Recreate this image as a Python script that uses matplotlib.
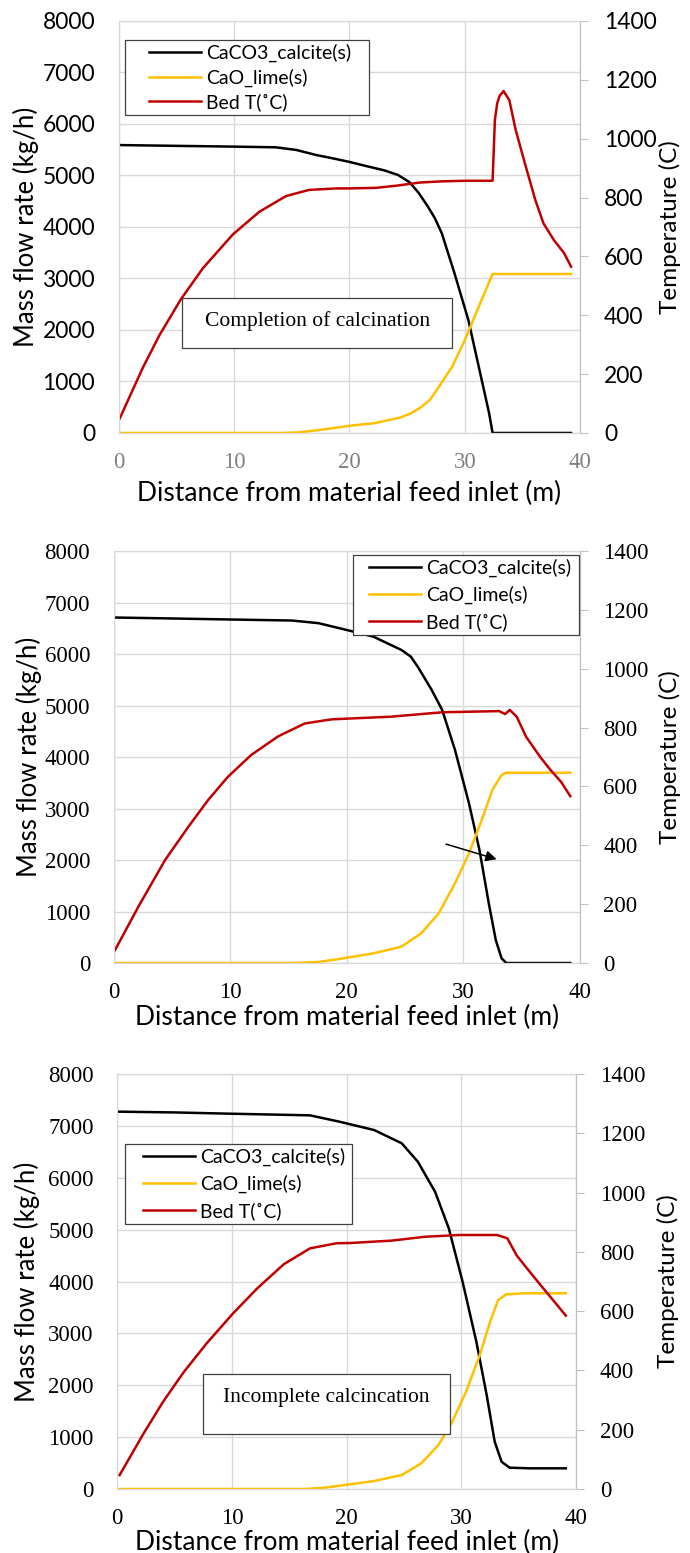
import numpy as np
import matplotlib
matplotlib.use('Agg')
from matplotlib import pyplot as plt
from matplotlib.patches import Rectangle
from matplotlib.legend_handler import HandlerLine2D

plt.rcParams['font.family'] = ['Lato', 'DejaVu Sans']

SANS = ['Lato', 'DejaVu Sans']
SERIF = ['Liberation Serif', 'DejaVu Serif']

labels = ['CaCO3_calcite(s)', 'CaO_lime(s)', 'Bed T(˚C)']
xlabel = 'Distance from material feed inlet (m)'
ylabel_left = 'Mass flow rate (kg/h)'
ylabel_right = 'Temperature (C)'

# ---- panel 1 : complete calcination
p1_caco3_x = [0.2, 5, 10, 13.6, 15.4, 17.1, 18.5, 19.9, 21.5, 23.0, 24.2, 25.2, 26.0, 26.8, 27.4,
              28, 29.1, 30.3, 31.2, 32.1, 32.4, 39.2]
p1_caco3_y = [5590, 5575, 5560, 5547, 5495, 5398, 5335, 5268, 5180, 5100, 5010, 4870, 4660, 4394, 4170,
              3877, 3100, 2194, 1288, 382, 0, 0]
p1_cao_x = [0.2, 14, 15.5, 17.3, 19.1, 20, 22.1, 24.4, 25.3, 26.2, 27.0, 27.7, 28.9, 30, 31.2, 32.4, 39.2]
p1_cao_y = [0, 0, 10, 55, 110, 140, 188, 300, 380, 500, 650, 880, 1288, 1806, 2452, 3087, 3087]
p1_t_x = [0.1, 2.07, 3.5, 5.4, 7.3, 9.9, 12.2, 14.5, 16.5, 18.9, 20, 22.3, 24, 26.1, 28, 30, 32.4,
          32.6, 32.8, 33.0, 33.35, 33.85, 34.4, 35.2, 36.1, 36.8, 37.7, 38.6, 39.2]
p1_t_y = [50, 220, 330, 455, 560, 675, 752, 805, 826, 831, 831, 833, 840, 851, 855, 857, 857,
          1064, 1120, 1145, 1162, 1131, 1030, 916, 792, 713, 656, 611, 565]
p1_note = 'Completion of calcination'

# ---- panel 2
p2_caco3_x = [0.2, 5, 10, 15.3, 17.6, 19.4, 20.3, 22.3, 24.7, 25.5, 26.1, 27.3, 28.2, 29.3, 30.5,
              31.4, 32.2, 32.8, 33.3, 33.7, 39.2]
p2_caco3_y = [6708, 6690, 6670, 6650, 6598, 6499, 6450, 6336, 6078, 5950, 5753, 5301, 4913, 4136, 3101,
              2194, 1159, 447, 91, 0, 0]
p2_cao_x = [0.2, 15.3, 17.6, 19.4, 22.3, 24.7, 26.4, 27.9, 29.3, 30.5, 31.7, 32.5, 33.3, 33.7, 39.2]
p2_cao_y = [0, 0, 20, 80, 188, 317, 577, 965, 1548, 2130, 2841, 3359, 3650, 3695, 3695]
p2_t_x = [0.1, 2.1, 4.4, 6.4, 8.1, 9.8, 11.8, 14.1, 16.4, 18.7, 19.8, 23.8, 28.2, 33.1, 33.6,
          34.0, 34.6, 35.4, 36.6, 37.5, 38.4, 39.2]
p2_t_y = [44, 191, 350, 463, 554, 633, 707, 770, 814, 828, 830, 837, 852, 856, 846,
          860, 837, 769, 701, 656, 616, 567]
p2_arrow_from = (28.3, 2324)
p2_arrow_to = (33.1, 2000)

# ---- panel 3 : incomplete calcination
p3_caco3_x = [0.1, 5, 10, 16.8, 19.4, 22.4, 24.8, 26.2, 27.7, 28.9, 30.1, 31.3, 32.2, 32.9,
              33.5, 34.2, 36.0, 39.1]
p3_caco3_y = [7275, 7260, 7235, 7204, 7080, 6920, 6664, 6310, 5731, 5025, 3996, 2840, 1812, 912,
              526, 411, 399, 399]
p3_cao_x = [0.2, 16.5, 18, 19.4, 22.4, 24.8, 26.5, 28.0, 29.2, 30.4, 31.6, 32.5, 33.2, 33.9, 35.4, 39.1]
p3_cao_y = [0, 0, 25, 64, 154, 270, 495, 848, 1297, 1875, 2583, 3225, 3643, 3753, 3773, 3773]
p3_t_x = [0.2, 2.3, 4.0, 5.8, 7.8, 10.1, 12.2, 14.5, 16.8, 19.1, 20.3, 23.9, 26.8, 29.8, 33.1,
          34.0, 34.8, 35.7, 36.9, 38.1, 39.1]
p3_t_y = [47, 188, 295, 395, 492, 593, 677, 758, 812, 829, 830, 838, 851, 857, 857,
          846, 789, 745, 688, 632, 585]
p3_note = 'Incomplete calcincation'

BLACK = '#000000'
YELLOW = '#FFC000'
RED = '#C00000'
GRID = '#D9D9D9'
LEG_FS = 14
TICK_FS = 16.5


def draw_panel(rect, caco3, cao, temp, tick_fonts, xtick_color, leg_box, leg_xpad, leg_hlen,
               leg_space, ylab_x, yrlab_x, xlab_y):
    ax = fig.add_axes(rect)
    ax2 = ax.twinx()
    l1, = ax.plot(caco3[0], caco3[1], color=BLACK, lw=1.8)
    l2, = ax.plot(cao[0], cao[1], color=YELLOW, lw=1.8)
    l3, = ax2.plot(temp[0], temp[1], color=RED, lw=1.8)

    ax.set_xlim(0, 40)
    ax.set_ylim(0, 8000)
    ax2.set_ylim(0, 1400)
    ax.set_xticks(np.arange(0, 41, 10))
    ax.set_yticks(np.arange(0, 8001, 1000))
    ax2.set_yticks(np.arange(0, 1401, 200))
    ax.grid(True, color=GRID, lw=1)
    ax.set_axisbelow(True)

    for a in (ax, ax2):
        for s in a.spines.values():
            s.set_color(GRID)
    ax2.spines['right'].set_color('#BFBFBF')

    ax.tick_params(axis='y', length=0, pad=17)
    ax.tick_params(axis='x', length=0, pad=14, colors=xtick_color)
    ax2.tick_params(axis='y', length=6, color='#BFBFBF', pad=11)
    for t in ax.get_yticklabels():
        t.set_fontfamily(tick_fonts[0]); t.set_fontsize(TICK_FS)
    for t in ax2.get_yticklabels():
        t.set_fontfamily(tick_fonts[1]); t.set_fontsize(TICK_FS)
    for t in ax.get_xticklabels():
        t.set_fontfamily(tick_fonts[2]); t.set_fontsize(TICK_FS)

    ax.text(0.5, xlab_y, xlabel, transform=ax.transAxes, ha='center', va='center',
            fontsize=19, family=SANS)
    ax.text(ylab_x, 0.5, ylabel_left, transform=ax.transAxes, ha='center', va='center',
            rotation=90, fontsize=18.5, family=SANS)
    ax.text(yrlab_x, 0.5, ylabel_right, transform=ax.transAxes, ha='center', va='center',
            rotation=90, fontsize=17.5, family=SANS)

    hmap = {l: HandlerLine2D(xpad=leg_xpad) for l in (l1, l2, l3)}
    leg = ax2.legend([l1, l2, l3], labels, loc='upper left', bbox_to_anchor=leg_box, mode='expand',
                     borderaxespad=0, fancybox=False, framealpha=1, edgecolor='#404040',
                     handlelength=leg_hlen, handletextpad=0.26, borderpad=0.2,
                     labelspacing=leg_space, handler_map=hmap,
                     prop={'family': SANS, 'size': LEG_FS})
    leg.get_frame().set_linewidth(0.9)
    leg.set_zorder(20)
    return ax, ax2


def note_box(ax2, box, text, text_y):
    r = Rectangle((box[0], box[1]), box[2] - box[0], box[3] - box[1], transform=ax2.transAxes,
                  facecolor='white', edgecolor='#404040', lw=0.9, zorder=15)
    ax2.add_patch(r)
    ax2.text((box[0] + box[2]) / 2, text_y, text, transform=ax2.transAxes, ha='center',
             va='center', fontsize=15.5, family=SERIF, zorder=16)


fig = plt.figure(figsize=(6.9, 15.53), dpi=100)

ax, ax2 = draw_panel([0.172, 0.7212, 0.669, 0.2653],
                     (p1_caco3_x, p1_caco3_y), (p1_cao_x, p1_cao_y), (p1_t_x, p1_t_y),
                     (SANS, SANS, SERIF), '#808080', (0.014, 0.772, 0.529, 0.182), 1.03, 3.71, 0.33,
                     -0.20, 1.195, -0.146)
note_box(ax2, (0.137, 0.206, 0.723, 0.328), p1_note, 0.272)

ax, ax2 = draw_panel([0.165, 0.3799, 0.675, 0.2653],
                     (p2_caco3_x, p2_caco3_y), (p2_cao_x, p2_cao_y), (p2_t_x, p2_t_y),
                     (SERIF, SERIF, SERIF), 'black', (0.513, 0.803, 0.485, 0.187), 0.62, 3.3, 0.44,
                     -0.182, 1.195, -0.131)
ax.annotate('', xy=p2_arrow_to, xytext=p2_arrow_from,
            arrowprops=dict(arrowstyle='-|>', color='black', lw=1.1, mutation_scale=16))

ax, ax2 = draw_panel([0.170, 0.0412, 0.665, 0.2672],
                     (p3_caco3_x, p3_caco3_y), (p3_cao_x, p3_cao_y), (p3_t_x, p3_t_y),
                     (SERIF, SERIF, SERIF), 'black', (0.017, 0.636, 0.495, 0.195), 0.70, 3.4, 0.44,
                     -0.196, 1.20, -0.128)
note_box(ax2, (0.187, 0.133, 0.725, 0.277), p3_note, 0.220)

fig.savefig('out.png', dpi=100)
